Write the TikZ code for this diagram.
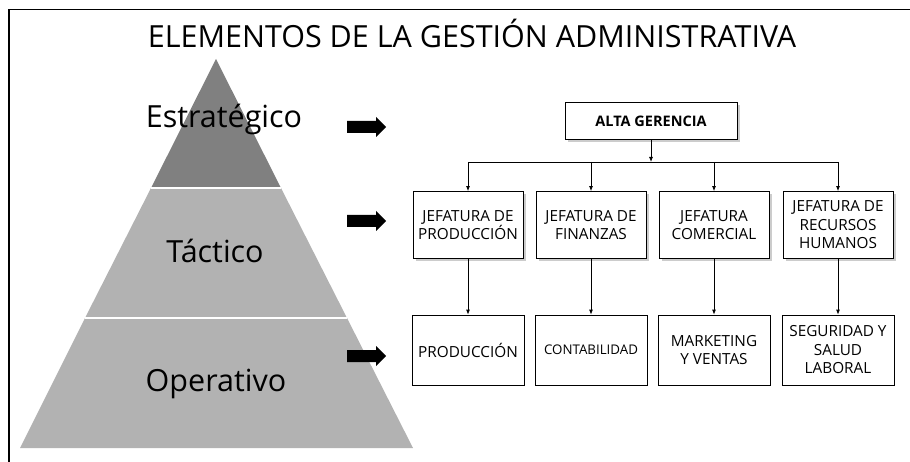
\documentclass[tikz,border=0pt]{standalone}
\usepackage{fontspec}
\setmainfont{Open Sans}
\usetikzlibrary{shadows}
\usetikzlibrary{positioning}
\usetikzlibrary{arrows.meta}
\tikzset{
    jefe/.style = {rectangle, draw=black, line width=0.8pt, fill=white, minimum width=110pt, minimum height=67pt, align=center, inner sep=2pt, font=\fontsize{15.3}{18.5}\selectfont, drop shadow={shadow xshift=2.5pt, shadow yshift=-2.5pt, fill=black!40}},
    area/.style = {rectangle, draw=black, line width=0.8pt, fill=white, minimum width=112pt, minimum height=70pt, align=center, inner sep=2pt, font=\fontsize{15.3}{18.5}\selectfont},
    nivel/.style = {font=\fontsize{30.5}{34}\selectfont},
    flecha/.pic = {\fill[black] (0,-6) -- (29,-6) -- (29,-10) -- (39,0) -- (29,10) -- (29,6) -- (0,6) -- cycle;},
    conn/.style = {-{Latex[length=5pt,width=4pt]}, line width=0.8pt},
    capa/.style = {draw=white, line width=1.5pt},
}

\begin{document}
\begin{tikzpicture}[x=1pt, y=-1pt]
  \useasboundingbox (0,0) rectangle (910,462);
  % marco
  \draw[line width=1.5pt] (910,9.5) -- (9,9.5) -- (9,462);
  \node[font=\fontsize{30.5}{34}\selectfont] (titulo) at (472,33) {ELEMENTOS DE LA GESTIÓN ADMINISTRATIVA};

  % piramide
  \fill[black!50] (216,59) -- (281,188) -- (151,188) -- cycle;
  \fill[black!30] (151,188) -- (281,188) -- (347,318) -- (85,318) -- cycle;
  \fill[black!30] (85,318) -- (347,318) -- (413,448) -- (20,448) -- cycle;
  \draw[capa] (151,188) -- (281,188);
  \draw[capa] (85,318) -- (347,318);

  \node[nivel] (est) at (224,119) {Estratégico};
  \node[nivel] (tac) at (215,251) {Táctico};
  \node[nivel] (ope) at (216,384) {Operativo};

  \pic (fest) at (347,127) {flecha};
  \pic (ftac) at (347,221) {flecha};
  \pic (fope) at (347,356) {flecha};

  % organigrama
  \node[jefe, minimum width=172pt, minimum height=37pt, font=\bfseries\fontsize{14.5}{17}\selectfont] (alta) at (651,121) {ALTA GERENCIA};

  \node[jefe] (jp) at (468,225) {JEFATURA DE\\PRODUCCIÓN};
  \node[jefe] (jf) at (591,225) {JEFATURA DE\\FINANZAS};
  \node[jefe] (jc) at (714,225) {JEFATURA\\COMERCIAL};
  \node[jefe] (jr) at (838,225) {JEFATURA DE\\RECURSOS\\HUMANOS};

  \node[area] (p) at (468,350) {PRODUCCIÓN};
  \node[area, font=\fontsize{13.3}{16}\selectfont] (c) at (591,350) {CONTABILIDAD};
  \node[area] (m) at (714,350) {MARKETING\\Y VENTAS};
  \node[area] (s) at (838,350) {SEGURIDAD Y\\SALUD\\LABORAL};

  \coordinate (bus) at (651,162);
  \draw[conn] (alta.south) -- (bus);
  \draw[line width=0.8pt] (jp.north |- bus) -- (jr.north |- bus);
  \foreach \j in {jp,jf,jc,jr}
    \draw[conn] (\j.north |- bus) -- (\j.north);
  \draw[conn] (jp) -- (p);
  \draw[conn] (jf) -- (c);
  \draw[conn] (jc) -- (m);
  \draw[conn] (jr) -- (s);
\end{tikzpicture}
\end{document}
